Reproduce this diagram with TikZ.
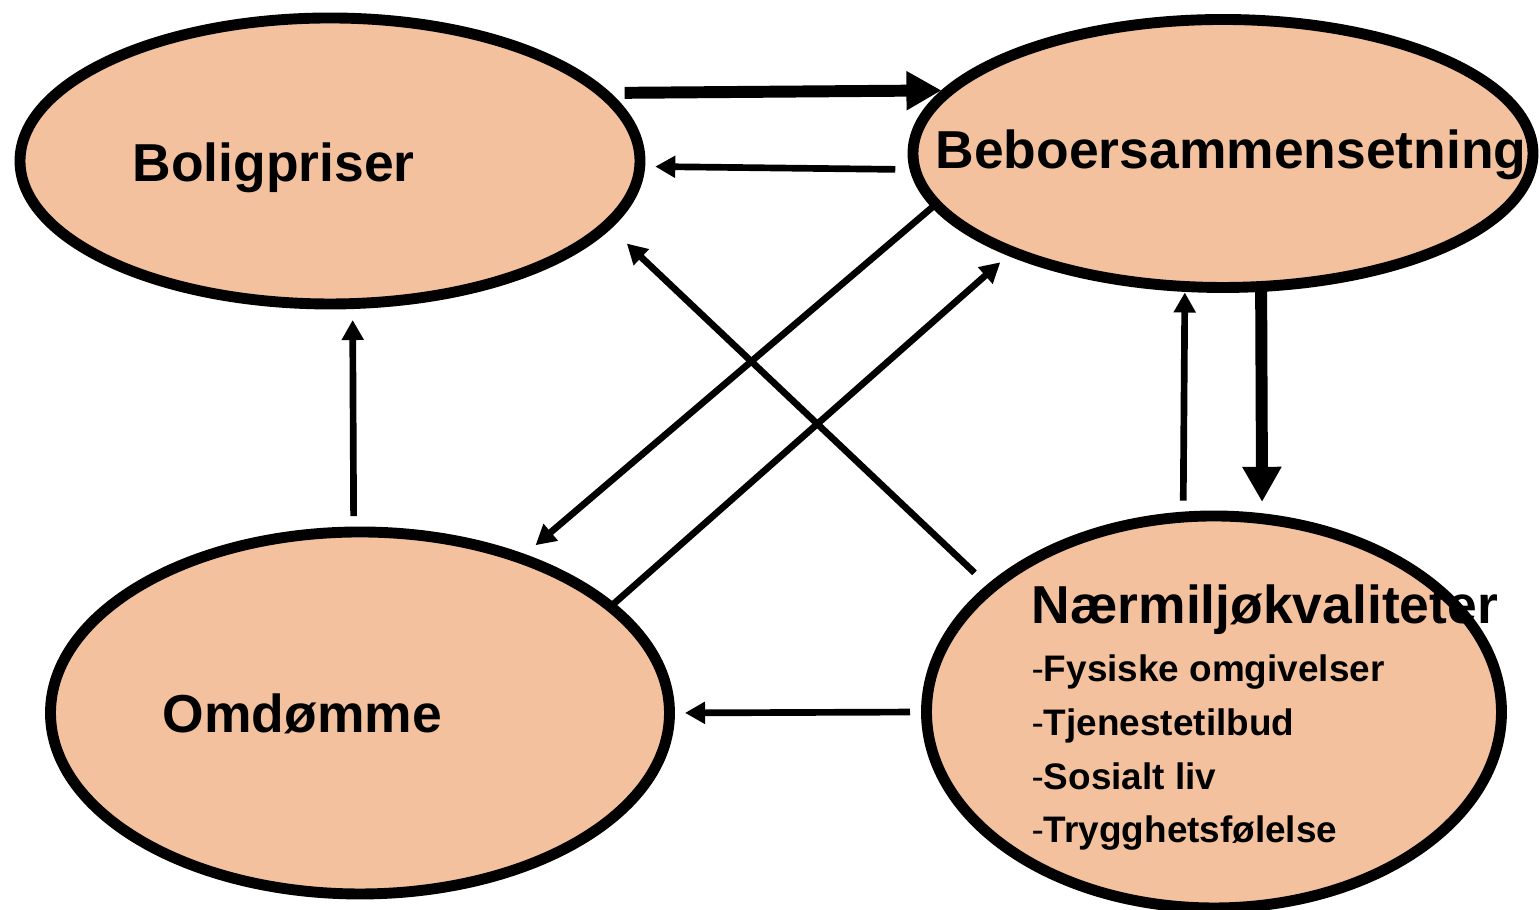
\documentclass[tikz,border=0pt]{standalone}
\usepackage{fontspec}
\setmainfont{Liberation Sans}
\usetikzlibrary{shapes.geometric,arrows.meta}
\definecolor{peach}{RGB}{243,193,157}
\begin{document}
\begin{tikzpicture}[
  blob/.style={draw,ellipse,fill=peach,line width=3.1pt,inner sep=0pt,outer sep=0pt},
  maintext/.style={font=\fontsize{15.2}{18}\selectfont\bfseries,inner sep=0pt,anchor=base west},
  subtext/.style={font=\fontsize{10.5}{12}\selectfont\bfseries,inner sep=0pt,anchor=base west},
  smallarrow/.style={line width=1.9pt,-{Triangle[length=5.7pt,width=6pt]}},
  bigarrow/.style={line width=3.4pt,-{Triangle[length=10pt,width=10.5pt]}}]
  \useasboundingbox (0,0) rectangle (15.4,9.1);
  \node[blob,minimum width=6.20cm,minimum height=2.86cm] (bolig) at (3.30,7.49) {};
  \node[blob,minimum width=6.20cm,minimum height=2.68cm] (bebo) at (12.23,7.565) {};
  \node[blob,minimum width=6.19cm,minimum height=3.62cm] (omd) at (3.60,1.97) {};
  \node[blob,minimum width=5.75cm,minimum height=3.92cm] (naer) at (12.14,1.98) {};
  \node[maintext] (bolig-txt) at (1.32,7.28) {Boligpriser};
  \node[maintext] (bebo-txt) at (9.35,7.417) {Beboersammensetning};
  \node[maintext] (omd-txt) at (1.62,1.777) {Omdømme};
  \node[maintext] (naer-txt) at (10.31,2.86) {Nærmiljøkvaliteter};
  \node[subtext] (naer-a) at (10.31,2.283) {{\mdseries -}Fysiske omgivelser};
  \node[subtext] (naer-b) at (10.31,1.74) {{\mdseries -}Tjenestetilbud};
  \node[subtext] (naer-c) at (10.31,1.207) {{\mdseries -}Sosialt liv};
  \node[subtext] (naer-d) at (10.31,0.673) {{\mdseries -}Trygghetsfølelse};
  \draw[bigarrow,shorten <=0.22cm,shorten >=0.08cm] (bolig.14) -- (bebo.167.6);
  \draw[smallarrow,shorten <=0.20cm,shorten >=0.155cm] (bebo.-177.3) -- (bolig.-1.3);
  \draw[smallarrow,shorten <=0.05cm,shorten >=0.20cm] (bebo.-170.5) -- (omd.44.1);
  \draw[smallarrow,shorten >=0.16cm] (omd.23.4) -- (bebo.-155);
  \draw[smallarrow,shorten <=0.226cm,shorten >=0.27cm] (naer.151.7) -- (bolig.-13.35);
  \draw[smallarrow,shorten <=0.16cm,shorten >=0.164cm] (omd.92.5) -- (bolig.-81.2);
  \draw[smallarrow,shorten <=0.164cm,shorten >=0.06cm] (naer.99) -- (bebo.-106.35);
  \draw[bigarrow,shorten <=0.04cm,shorten >=0.168cm] (bebo.-74.05) -- (naer.76.6);
  \draw[smallarrow,shorten <=0.165cm,shorten >=0.155cm] (naer.180) -- (omd.0);
\end{tikzpicture}
\end{document}
